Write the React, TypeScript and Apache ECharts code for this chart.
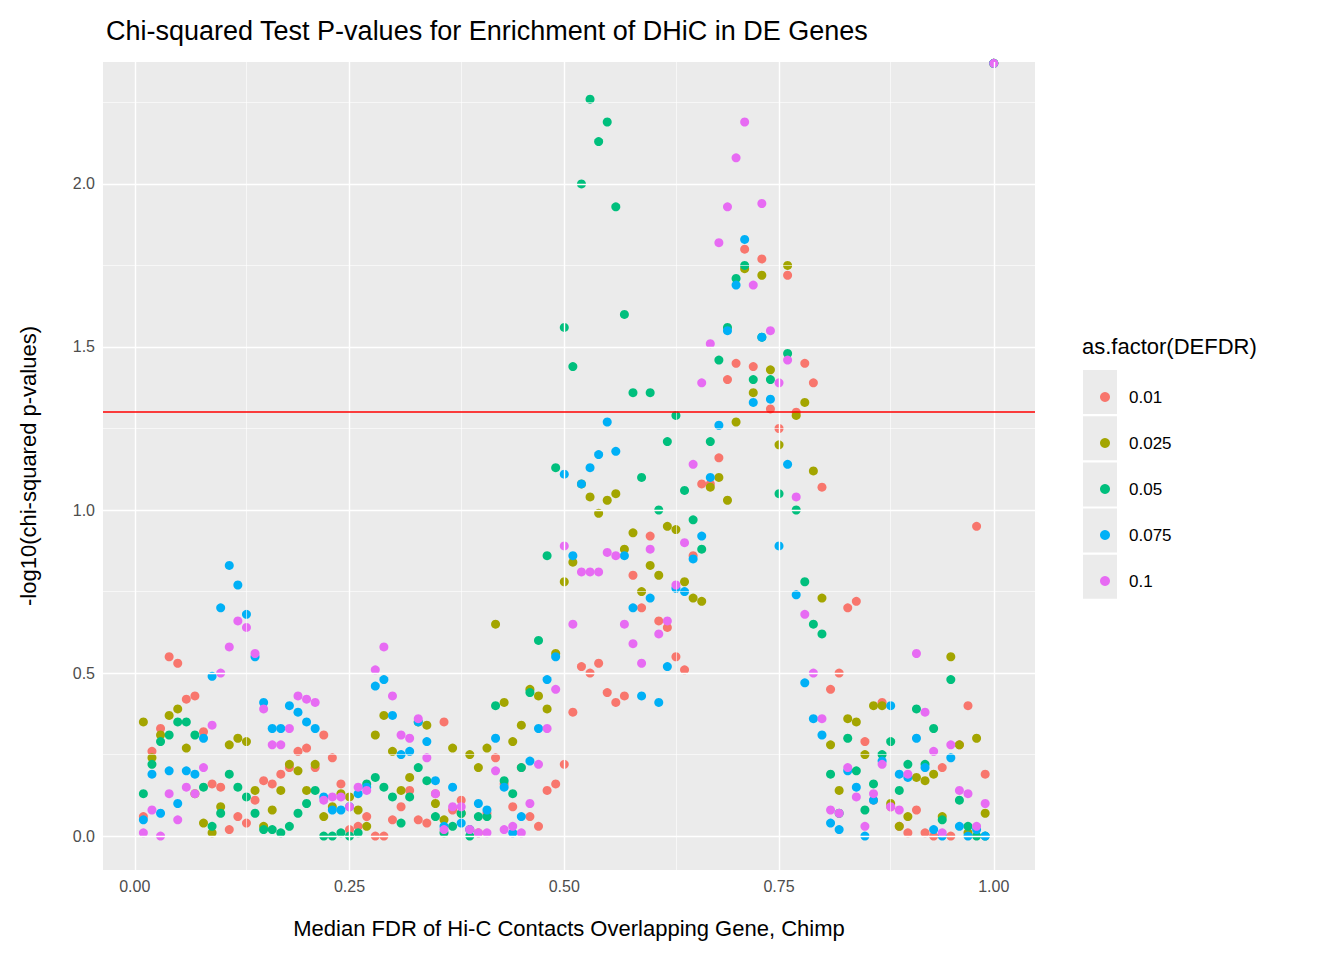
import React, { useEffect, useRef } from 'react';
import * as echarts from 'echarts';

const fdrLevels = ['0.01', '0.025', '0.05', '0.075', '0.1'];
const colors = ['#F8766D', '#A3A500', '#00BF7D', '#00B0F6', '#E76BF3'];

// x = 0.01 ... 1.00
const p001 = [0.06,0.26,0.33,0.55,0.53,0.42,0.43,0.32,0.16,0.15,0.02,0.06,0.04,0.11,0.17,0.16,0.19,0.21,0.26,0.27,0.21,0.31,0.24,0.16,0.02,0.03,0.06,0.0,0.0,0.05,0.09,0.14,0.05,0.04,0.13,0.35,0.08,0.11,0.02,0.01,0.07,0.24,0.16,0.09,0.21,0.06,0.03,0.14,0.16,0.22,0.38,0.52,0.50,0.53,0.44,0.41,0.43,0.80,0.70,0.92,0.66,0.64,0.55,0.51,0.86,1.08,1.08,1.16,1.40,1.45,1.80,1.44,1.77,1.31,1.25,1.72,1.30,1.45,1.39,1.07,0.45,0.50,0.70,0.72,0.29,0.11,0.41,0.09,0.03,0.01,0.08,0.01,0.0,0.21,0.0,0.28,0.40,0.95,0.19,2.37];
const p0025 = [0.35,0.24,0.31,0.37,0.39,0.27,0.13,0.04,0.01,0.09,0.28,0.30,0.29,0.14,0.03,0.08,0.14,0.22,0.20,0.14,0.22,0.06,0.09,0.13,0.12,0.08,0.03,0.31,0.37,0.26,0.14,0.18,0.35,0.34,0.10,0.05,0.27,0.07,0.25,0.21,0.27,0.65,0.41,0.29,0.34,0.45,0.43,0.39,0.56,0.78,0.84,1.08,1.04,0.99,1.03,1.05,0.88,0.93,0.75,0.83,0.80,0.95,0.94,0.78,0.73,0.72,1.07,1.10,1.03,1.27,1.74,1.36,1.72,1.43,1.20,1.75,1.29,1.33,1.12,0.73,0.28,0.14,0.36,0.35,0.25,0.40,0.40,0.10,0.03,0.06,0.18,0.17,0.19,0.06,0.55,0.28,0.01,0.30,0.07,2.37];
const p005 = [0.13,0.22,0.29,0.31,0.35,0.35,0.31,0.15,0.03,0.07,0.19,0.15,0.12,0.07,0.02,0.02,0.01,0.03,0.07,0.10,0.14,0.0,0.0,0.01,0.0,0.01,0.16,0.18,0.15,0.12,0.04,0.12,0.21,0.17,0.06,0.01,0.03,0.07,0.0,0.06,0.06,0.40,0.17,0.13,0.21,0.44,0.60,0.86,1.13,1.56,1.44,2.00,2.26,2.13,2.19,1.93,1.60,1.36,1.10,1.36,1.00,1.21,1.29,1.06,0.97,0.88,1.21,1.46,1.56,1.71,1.75,1.40,1.53,1.40,1.05,1.48,1.00,0.78,0.65,0.62,0.19,0.07,0.30,0.20,0.08,0.16,0.25,0.29,0.14,0.22,0.39,0.22,0.33,0.05,0.48,0.11,0.03,0.0,0.0,2.37];
const p0075 = [0.05,0.19,0.07,0.20,0.10,0.20,0.19,0.30,0.49,0.70,0.83,0.77,0.68,0.55,0.41,0.33,0.33,0.40,0.38,0.35,0.33,0.12,0.08,0.08,0.09,0.13,0.15,0.46,0.48,0.37,0.25,0.26,0.35,0.29,0.17,0.03,0.15,0.04,0.02,0.10,0.08,0.30,0.15,0.01,0.06,0.23,0.33,0.48,0.55,1.11,0.86,1.08,1.13,1.17,1.27,1.18,0.86,0.70,0.43,0.73,0.41,0.52,0.76,0.75,0.85,0.92,1.10,1.26,1.55,1.69,1.83,1.33,1.53,1.34,0.89,1.14,0.74,0.47,0.36,0.31,0.04,0.02,0.20,0.15,0.0,0.11,0.23,0.40,0.19,0.18,0.30,0.21,0.02,0.0,0.24,0.03,0.0,0.02,0.0,2.37];
const p01 = [0.01,0.08,0.0,0.13,0.05,0.15,0.13,0.21,0.34,0.50,0.58,0.66,0.64,0.56,0.39,0.28,0.28,0.33,0.43,0.42,0.41,0.11,0.12,0.12,0.09,0.15,0.14,0.51,0.58,0.43,0.31,0.30,0.36,0.24,0.13,0.02,0.09,0.09,0.02,0.01,0.01,0.20,0.02,0.03,0.01,0.10,0.22,0.33,0.45,0.89,0.65,0.81,0.81,0.81,0.87,0.86,0.65,0.59,0.53,0.88,0.62,0.66,0.77,0.90,1.14,1.39,1.51,1.82,1.93,2.08,2.19,1.69,1.94,1.55,1.39,1.46,1.04,0.68,0.50,0.36,0.08,0.07,0.21,0.12,0.03,0.13,0.22,0.09,0.08,0.19,0.56,0.38,0.26,0.01,0.28,0.14,0.13,0.03,0.10,2.37];
const seriesValues = [p001, p0025, p005, p0075, p01];

const xTicks = [0, 0.25, 0.5, 0.75, 1];
const xMinor = [0.125, 0.375, 0.625, 0.875];
const yTicks = [0, 0.5, 1, 1.5, 2];
const yMinor = [0.25, 0.75, 1.25, 1.75, 2.25];
const threshold = 1.3;

const App: React.FC = () => {
  const chartRef = useRef<HTMLDivElement>(null);

  useEffect(() => {
    document.body.style.margin = '0';
    if (!chartRef.current) return;
    const chart = echarts.init(chartRef.current, null, { renderer: 'svg' });
    const xs = p001.map((_, i) => (i + 1) / 100);
    const grey = '#4D4D4D';
    const font = 'Liberation Sans, Arial, sans-serif';

    const gridLines = {
      type: 'scatter',
      data: [],
      silent: true,
      z: 1,
      markLine: {
        silent: true,
        symbol: 'none',
        label: { show: false },
        data: [
          ...xMinor.map((v) => ({ xAxis: v, lineStyle: { color: '#fff', width: 0.6, type: 'solid' } })),
          ...yMinor.map((v) => ({ yAxis: v, lineStyle: { color: '#fff', width: 0.6, type: 'solid' } })),
          ...xTicks.map((v) => ({ xAxis: v, lineStyle: { color: '#fff', width: 1.4, type: 'solid' } })),
          ...yTicks.map((v) => ({ yAxis: v, lineStyle: { color: '#fff', width: 1.4, type: 'solid' } })),
        ],
      },
    };

    const option = {
      animation: false,
      textStyle: { fontFamily: font },
      title: {
        text: 'Chi-squared Test P-values for Enrichment of DHiC in DE Genes',
        left: 101,
        top: 12,
        textStyle: { fontSize: 27, fontWeight: 'normal', color: '#000' },
      },
      grid: { left: 103, right: 309, top: 62, bottom: 90, show: true, backgroundColor: '#EBEBEB', borderWidth: 0 },
      xAxis: {
        type: 'value',
        min: -0.037,
        max: 1.048,
        splitLine: { show: false },
        axisLine: { show: false },
        axisTick: { show: true, customValues: xTicks, length: 5, lineStyle: { color: '#333' } },
        axisLabel: { customValues: xTicks, formatter: (v: number) => v.toFixed(2), color: grey, fontSize: 16, margin: 8 },
        name: 'Median FDR of Hi-C Contacts Overlapping Gene, Chimp',
        nameLocation: 'middle',
        nameGap: 47,
        nameTextStyle: { fontSize: 22, color: '#000' },
      },
      yAxis: {
        type: 'value',
        min: -0.104,
        max: 2.374,
        splitLine: { show: false },
        axisLine: { show: false },
        axisTick: { show: true, customValues: yTicks, length: 5, lineStyle: { color: '#333' } },
        axisLabel: { customValues: yTicks, formatter: (v: number) => v.toFixed(1), color: grey, fontSize: 16, margin: 8 },
        name: '-log10(chi-squared p-values)',
        nameLocation: 'middle',
        nameGap: 64,
        nameTextStyle: { fontSize: 22, color: '#000' },
      },
      legend: {
        orient: 'vertical',
        left: 1095,
        top: 383,
        itemGap: 28,
        itemWidth: 10,
        itemHeight: 10,
        icon: 'circle',
        data: fdrLevels,
        textStyle: { fontSize: 17, lineHeight: 18, color: '#000', padding: [0, 0, 0, 14] },
      },
      graphic: [
        { type: 'text', left: 1082, top: 335, style: { text: 'as.factor(DEFDR)', fontSize: 22, fill: '#000', fontFamily: font } },
        ...fdrLevels.map((_, i) => ({
          type: 'rect',
          left: 1083,
          top: 370 + i * 46.2,
          z: -1,
          shape: { width: 34, height: 44 },
          style: { fill: '#EBEBEB' },
        })),
      ],
      series: [
        gridLines,
        ...fdrLevels.map((name, k) => ({
          name,
          type: 'scatter',
          symbolSize: 9,
          itemStyle: { color: colors[k], opacity: 1 },
          z: 3,
          data: xs.map((x, i) => [x, seriesValues[k][i]]),
        })),
        {
          type: 'scatter',
          data: [],
          z: 4,
          markLine: {
            silent: true,
            symbol: 'none',
            label: { show: false },
            lineStyle: { color: '#FF0000', width: 1.6, type: 'solid' },
            data: [{ yAxis: threshold }],
          },
        },
      ],
    };

    chart.setOption(option);
    return () => chart.dispose();
  }, []);

  return <div ref={chartRef} style={{ width: 1344, height: 960 }} />;
};

export default App;
